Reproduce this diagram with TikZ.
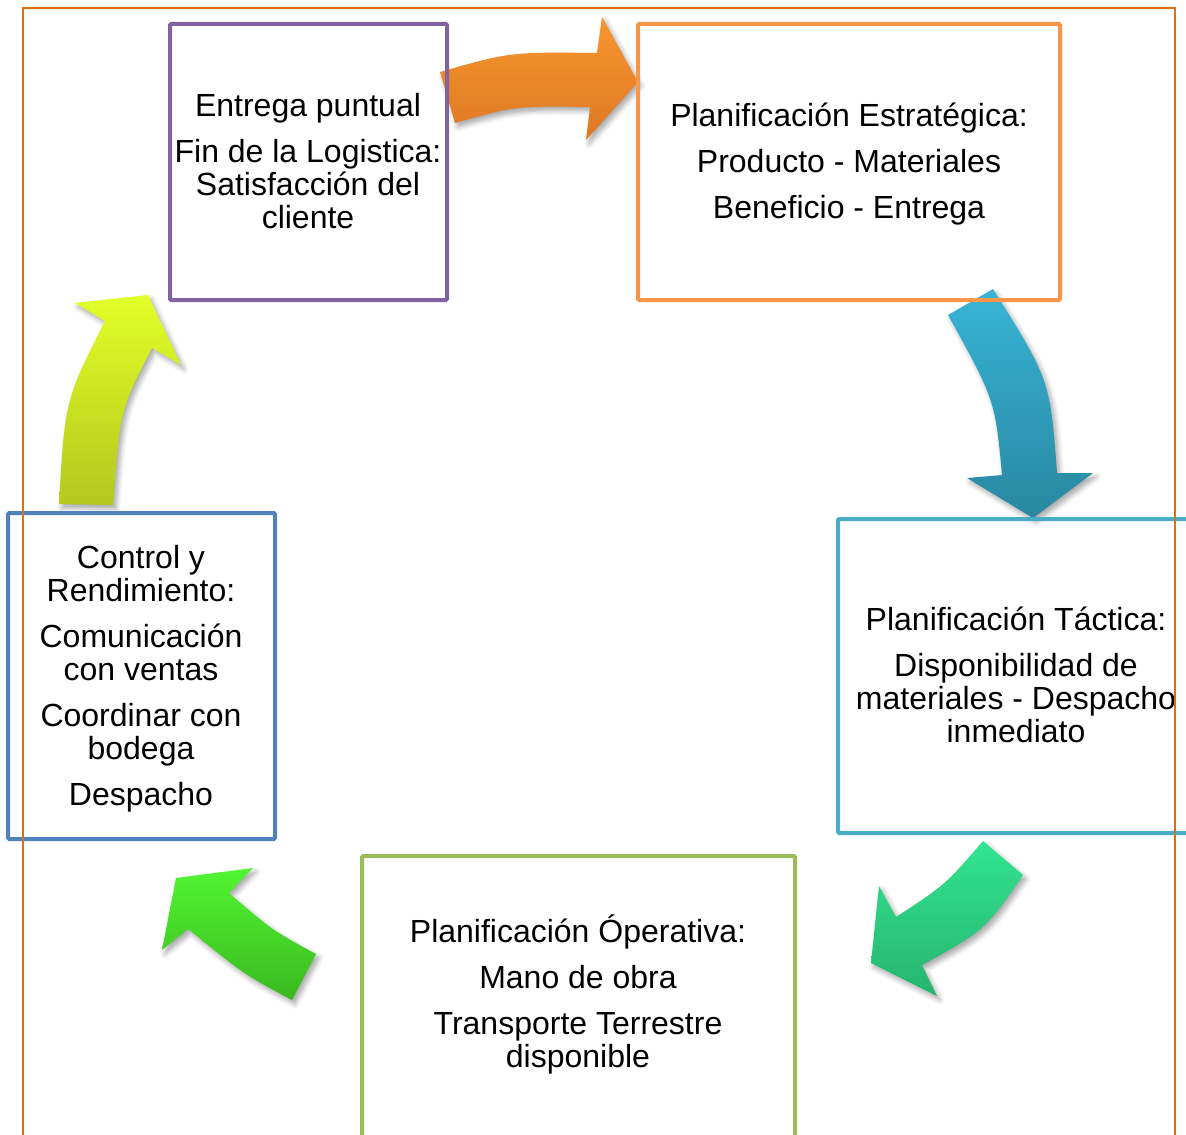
\documentclass[tikz,border=0pt]{standalone}
\usepackage{fontspec}
\setmainfont{Liberation Sans}
\usetikzlibrary{shadows.blur}

\definecolor{cPurple}{HTML}{8064A2}
\definecolor{cOrange}{HTML}{F79646}
\definecolor{cTeal}{HTML}{4BACC6}
\definecolor{cGreen}{HTML}{9BBB59}
\definecolor{cBlue}{HTML}{4F81BD}
\definecolor{cFrame}{HTML}{E46C0A}

\definecolor{aOrangeT}{HTML}{F8962F}
\definecolor{aOrangeB}{HTML}{DE7824}
\definecolor{aTealT}{HTML}{38B4D6}
\definecolor{aTealB}{HTML}{2887A0}
\definecolor{aMintT}{HTML}{32E491}
\definecolor{aMintB}{HTML}{26B46E}
\definecolor{aLimeT}{HTML}{52F532}
\definecolor{aLimeB}{HTML}{3AB920}
\definecolor{aYellowT}{HTML}{E1FF28}
\definecolor{aYellowB}{HTML}{B2C81E}

\tikzset{
  stagebox/.style={draw, line width=2pt, rounded corners=0.6pt, inner sep=0pt},
  stagetext/.style={align=center, inner sep=0pt, font=\fontsize{16}{16.5}\selectfont},
  bigarrow/.style={blur shadow={shadow xshift=1.5pt, shadow yshift=-2pt,
      shadow opacity=35, shadow blur steps=6, shadow blur radius=2.5pt}},
}

\begin{document}
\begin{tikzpicture}[x=0.5pt, y=-0.5pt]
\useasboundingbox (0,0) rectangle (1186,1134);

% curved block arrows between the stages
\path[bigarrow, top color=aOrangeT, bottom color=aOrangeB]
  (440,72) .. controls (510,52) .. (597,53) -- (602,17) -- (638,82)
  -- (586,140) -- (590,107) .. controls (515,106) .. (455,123) -- cycle;
\path[bigarrow, top color=aTealT, bottom color=aTealB]
  (948,315) .. controls (995,400) .. (1002,475) -- (967,478) -- (1033,518)
  -- (1093,473) -- (1057,473) .. controls (1050,380) .. (993,289) -- cycle;
\path[bigarrow, top color=aMintT, bottom color=aMintB]
  (983,841) -- (1023,875) .. controls (985,930) .. (922,965) -- (937,996)
  -- (871,963) -- (879,886) -- (896,917) .. controls (945,885) .. (983,841) -- cycle;
\path[bigarrow, top color=aLimeT, bottom color=aLimeB]
  (316,954) -- (292,1000) .. controls (245,975) .. (188,929) -- (162,950)
  -- (176,878) -- (253,868) -- (229,893) .. controls (272,930) .. (316,954) -- cycle;
\path[bigarrow, top color=aYellowT, bottom color=aYellowB]
  (59,504) .. controls (65,400) .. (105,321) -- (75,303) -- (148,295)
  -- (181,365) -- (152,348) .. controls (120,410) .. (113,505) -- cycle;

% stage boxes
\node[stagebox, cPurple, minimum width=138.5pt, minimum height=138pt] (fin) at (308.5,162) {};
\node[stagebox, cOrange, minimum width=211pt, minimum height=138pt] (estr) at (849,162) {};
\node[stagebox, cTeal, minimum width=178pt, minimum height=157pt] (tact) at (1016,676) {};
\node[stagebox, cGreen, minimum width=216.5pt, minimum height=142pt] (oper) at (578.5,998) {};
\node[stagebox, cBlue, minimum width=133.5pt, minimum height=163pt] (ctrl) at (141.5,676) {};

% stage texts
\node[stagetext] (finT) at (308,161) {Entrega puntual\\[6.5pt]Fin de la Logistica:\\Satisfacción del\\cliente};
\node[stagetext] (estrT) at (849,164) {Planificación Estratégica:\\[6.5pt]Producto - Materiales\\[6.5pt]Beneficio - Entrega};
\node[stagetext] (tactT) at (1016,675) {Planificación Táctica:\\[6.5pt]Disponibilidad de\\materiales - Despacho\\inmediato};
\node[stagetext] (operT) at (578,994) {Planificación Óperativa:\\[6.5pt]Mano de obra\\[6.5pt]Transporte Terrestre\\disponible};
\node[stagetext] (ctrlT) at (141,679) {Control y\\Rendimiento:\\[6.5pt]Comunicación\\con ventas\\[6.5pt]Coordinar con\\bodega\\[6.5pt]Despacho};

% outer frame, open at the bottom
\draw[cFrame, line width=1pt] (22.5,1140) -- (22.5,8.5) -- (1175,8.5) -- (1175,1140);
\end{tikzpicture}
\end{document}
